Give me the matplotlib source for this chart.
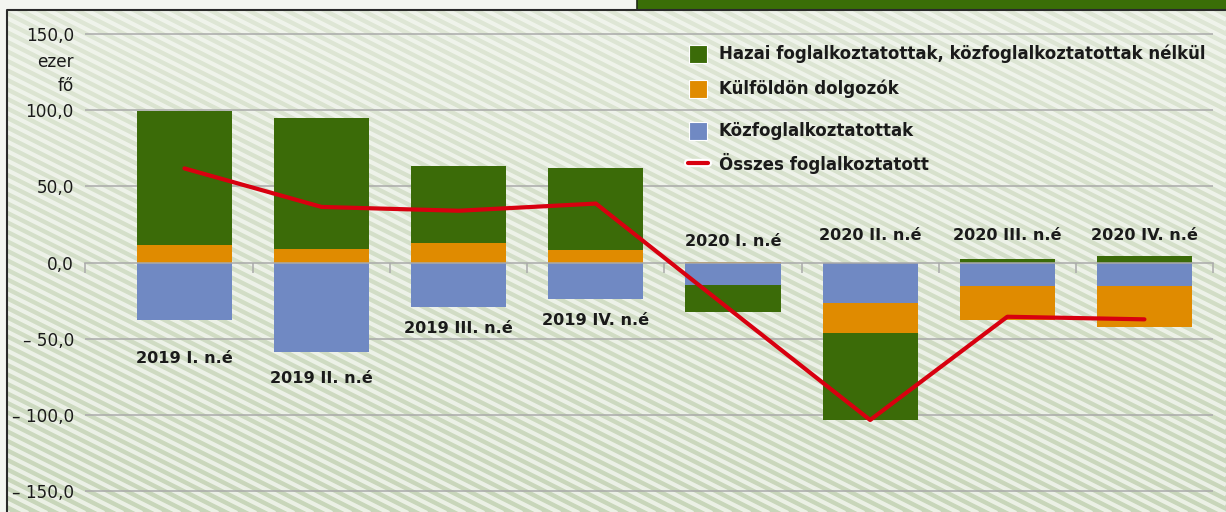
import numpy as np
import matplotlib
matplotlib.use("Agg")
import matplotlib.pyplot as plt
from matplotlib.patches import Rectangle
from matplotlib.lines import Line2D
from matplotlib.collections import LineCollection
from matplotlib.colors import LinearSegmentedColormap
import matplotlib.patheffects as pe

plt.rcParams['font.family'] = ['DejaVu Sans']

categories = ["2019 I. n.é", "2019 II. n.é", "2019 III. n.é", "2019 IV. n.é",
              "2020 I. n.é", "2020 II. n.é", "2020 III. n.é", "2020 IV. n.é"]
hazai = [88.5, 85.8, 50.5, 53.8, -17.6, -57.0, 2.3, 4.3]
kulfoldon = [11.3, 9.2, 13.1, 8.5, 0.3, -19.7, -22.6, -26.7]
kozfogl = [-38.0, -59.0, -29.5, -24.2, -14.9, -26.6, -15.4, -15.4]
osszes = [61.8, 36.5, 34.0, 38.7, -32.5, -103.4, -35.6, -37.3]

yticks = [150, 100, 50, 0, -50, -100, -150]
ytick_labels = ["150,0", "100,0", "50,0", "0,0", "– 50,0", "– 100,0", "– 150,0"]
series_names = ["Hazai foglalkoztatottak, közfoglalkoztatottak nélkül",
                "Külföldön dolgozók", "Közfoglalkoztatottak", "Összes foglalkoztatott"]

# vertical position of the period labels (data units)
label_y = [-63, -76, -43, -38, 14, 18, 18, 18]

GREEN = "#3b6b08"
ORANGE = "#e08b00"
BLUE = "#7089c3"
RED = "#d8000f"
GRID = "#aaaaaa"
TXT = "#1a1a1a"

W, H = 1226, 512
fig = plt.figure(figsize=(W / 100, H / 100), dpi=100)
fig.patch.set_facecolor("#f3f5f0")


def fx(x):
    return x / W


def fy(y):
    return 1 - y / H


# striped background
bg = fig.add_axes([fx(7), 0, 1 - fx(7), 1 - 10 / H], zorder=-2)
bw, bh = W - 7, H - 10
bg.set_xlim(0, bw)
bg.set_ylim(0, bh)
cmap = LinearSegmentedColormap.from_list("bg", ["#dfe7d6", "#c8d6ba"])
bg.imshow(np.linspace(0, 1, 256)[:, None], cmap=cmap, extent=[0, bw, 0, bh],
          aspect='auto', origin='upper')
segs = [[(0, c), (bw, c - 0.5 * bw)] for c in np.arange(0, bh + 0.5 * bw, 9.5)]
bg.add_collection(LineCollection(segs, colors="#f4f7f1", linewidths=3.0, alpha=0.8))
bg.axis('off')

# frame and dark green box at the top
fig.add_artist(Line2D([fx(7), fx(7), 1], [0, fy(10), fy(10)], color="#2a2a2a",
                      lw=1.5, transform=fig.transFigure))
fig.add_artist(Rectangle((fx(637), fy(10)), 1 - fx(637) + 0.01, 10 / H + 0.01,
                         facecolor="#3a6e07", edgecolor="#1e2a12", lw=1.2,
                         transform=fig.transFigure))

ax = fig.add_axes([fx(85), 0, fx(1213) - fx(85), 1 - 10 / H])
ax.set_facecolor('none')
x = np.arange(len(categories))

pos = np.zeros(len(x))
neg = np.zeros(len(x))
for vals, color in [(kozfogl, BLUE), (kulfoldon, ORANGE), (hazai, GREEN)]:
    v = np.array(vals)
    bottom = np.where(v >= 0, pos, neg)
    ax.bar(x, v, 0.693, bottom=bottom, color=color, linewidth=0, zorder=2)
    pos += np.clip(v, 0, None)
    neg += np.clip(v, None, 0)

for t in yticks:
    if t != 0:
        ax.axhline(t, color=GRID, lw=1.1, zorder=1)

ax.plot(x, osszes, color=RED, lw=3, solid_capstyle='round', zorder=4)

for i, cat in enumerate(categories):
    ax.text(i, label_y[i], cat, ha='center', va='center', fontsize=11.6,
            fontweight='bold', color=TXT, zorder=5)

ax.set_xlim(-0.725, 7.5)
ax.set_ylim(-163.8, 165.8)
for s in ['top', 'right', 'left']:
    ax.spines[s].set_visible(False)
ax.spines['bottom'].set_position(('data', 0))
ax.spines['bottom'].set_color(GRID)
ax.spines['bottom'].set_linewidth(1.1)
ax.spines['bottom'].set_zorder(3)
ax.set_xticks([-0.725] + list(np.arange(0.5, 8, 1)))
ax.tick_params(axis='x', length=7, width=1.1, color=GRID, labelbottom=False)
ax.xaxis.set_zorder(3)
ax.set_yticks(yticks)
ax.set_yticklabels(ytick_labels)
ax.tick_params(axis='y', length=0, pad=8, labelsize=12.2, labelcolor=TXT)

fig.text(fx(74), fy(74), "ezer\nfő", ha='right', va='center', fontsize=12.2,
         color=TXT, linespacing=1.45)

# legend
rows = [54, 89, 131, 163]
for name, color, yy in zip(series_names[:3], [GREEN, ORANGE, BLUE], rows[:3]):
    fig.add_artist(Rectangle((fx(689), fy(yy + 9)), 18 / W, 18 / H, facecolor=color,
                             edgecolor='white', lw=0.8, transform=fig.transFigure))
    fig.text(fx(719), fy(yy), name, ha='left', va='center', fontsize=12,
             fontweight='bold', color=TXT)
fig.add_artist(Line2D([fx(688), fx(708)], [fy(rows[3]), fy(rows[3])], color=RED, lw=3,
                      solid_capstyle='round', transform=fig.transFigure,
                      path_effects=[pe.Stroke(linewidth=6, foreground='white'), pe.Normal()]))
fig.text(fx(719), fy(rows[3]), series_names[3], ha='left', va='center', fontsize=12,
         fontweight='bold', color=TXT)

fig.savefig("out.png", dpi=100)
